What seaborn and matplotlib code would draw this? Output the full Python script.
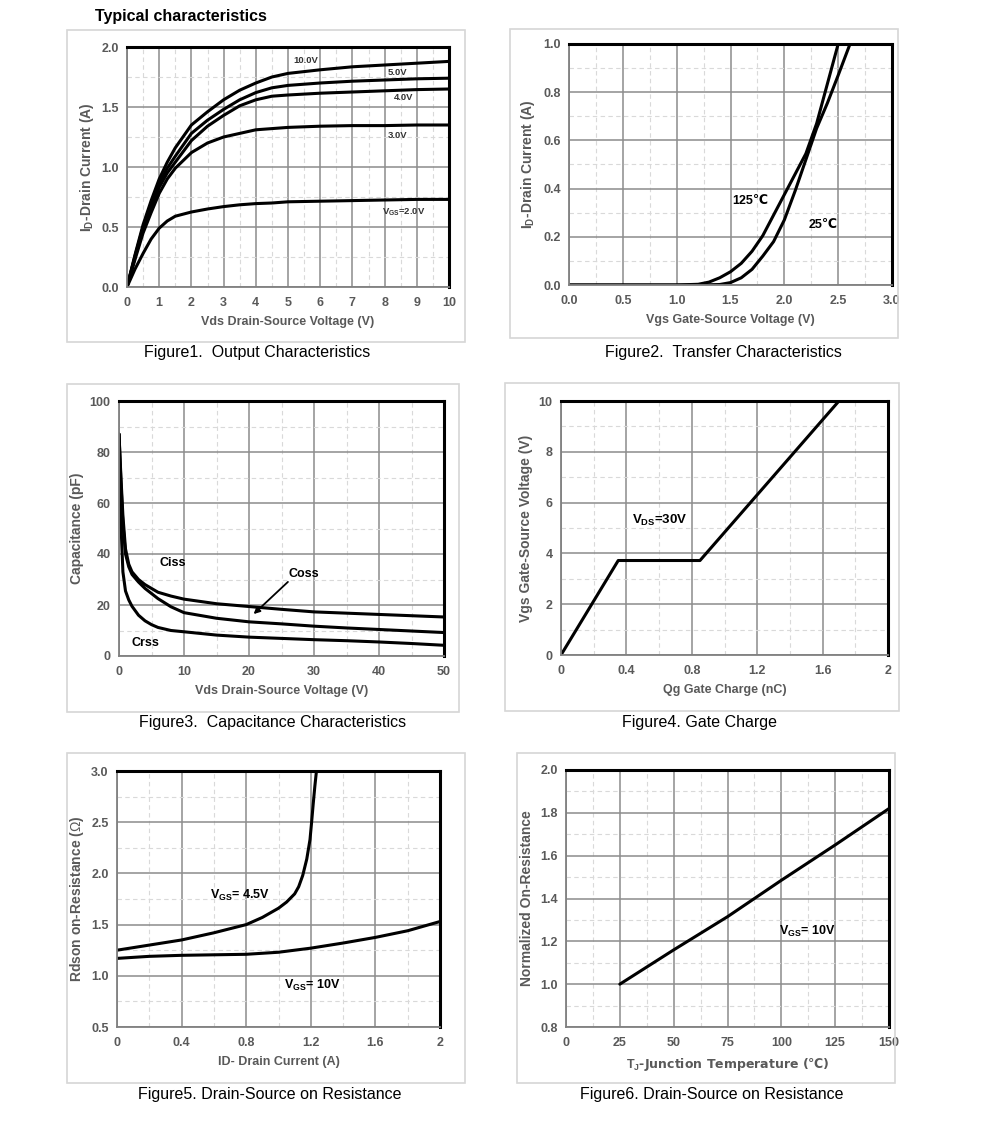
import numpy as np
import pandas as pd
import matplotlib
matplotlib.use('Agg')
import matplotlib.pyplot as plt
from matplotlib.patches import Rectangle
from matplotlib.ticker import MultipleLocator, FixedLocator, FixedFormatter
from matplotlib import font_manager, ft2font
import seaborn as sns

# ---- data ----
# Figure1: output characteristics
vds = [0, 0.25, 0.5, 0.75, 1, 1.25, 1.5, 2, 2.5, 3, 3.5, 4, 4.5, 5, 6, 7, 8, 9, 10]
id_10v = [0, 0.27, 0.52, 0.72, 0.90, 1.04, 1.16, 1.35, 1.46, 1.56, 1.64, 1.70, 1.75, 1.78, 1.81, 1.835, 1.85, 1.865, 1.88]
id_5v = [0, 0.26, 0.50, 0.69, 0.86, 0.99, 1.09, 1.28, 1.39, 1.48, 1.56, 1.62, 1.66, 1.68, 1.70, 1.715, 1.725, 1.735, 1.74]
id_4v = [0, 0.25, 0.48, 0.66, 0.83, 0.95, 1.04, 1.22, 1.34, 1.43, 1.51, 1.56, 1.59, 1.60, 1.615, 1.625, 1.635, 1.645, 1.65]
id_3v = [0, 0.23, 0.45, 0.62, 0.78, 0.90, 0.99, 1.12, 1.20, 1.25, 1.28, 1.31, 1.32, 1.33, 1.34, 1.345, 1.345, 1.35, 1.35]
id_2v = [0, 0.15, 0.28, 0.40, 0.49, 0.55, 0.59, 0.625, 0.65, 0.67, 0.685, 0.695, 0.70, 0.71, 0.715, 0.72, 0.725, 0.73, 0.73]
vgs_names = ['10.0V', '5.0V', '4.0V', '3.0V', '2.0V']

# Figure2: transfer characteristics
vgs_125 = [0, 1.0, 1.2, 1.3, 1.4, 1.5, 1.6, 1.7, 1.8, 1.9, 2.0, 2.1, 2.2, 2.3, 2.4, 2.5]
id_125 = [0, 0, 0.003, 0.012, 0.03, 0.055, 0.09, 0.14, 0.205, 0.29, 0.375, 0.46, 0.545, 0.67, 0.835, 1.0]
vgs_25 = [0, 1.2, 1.4, 1.5, 1.6, 1.7, 1.8, 1.9, 2.0, 2.1, 2.2, 2.3, 2.4, 2.5, 2.61]
id_25 = [0, 0, 0.002, 0.01, 0.03, 0.065, 0.12, 0.18, 0.27, 0.39, 0.52, 0.65, 0.755, 0.87, 1.0]

# Figure3: capacitance
vds_cap = [0, 0.3, 0.6, 1, 1.5, 2, 3, 4, 5, 6, 8, 10, 15, 20, 25, 30, 35, 40, 45, 50]
ciss = [87, 70, 55, 42, 36, 33, 30, 28, 26.5, 25, 23.5, 22.3, 20.5, 19.4, 18.3, 17.3, 16.8, 16.3, 15.8, 15.3]
coss = [87, 68, 52, 40, 35, 32, 29, 26.5, 24.5, 22.5, 19.3, 17, 14.8, 13.4, 12.6, 11.7, 11, 10.4, 9.8, 9.2]
crss = [87, 52, 33, 25.5, 22, 19.5, 16, 13.8, 12.3, 11.2, 10, 9.5, 8.2, 7.4, 6.9, 6.4, 6, 5.5, 4.9, 4.2]

# Figure4: gate charge
qg = [0, 0.35, 0.85, 1.70]
vgs_qg = [0, 3.72, 3.72, 10]

# Figure5: Rdson vs ID
id_45 = [0, 0.2, 0.4, 0.6, 0.8, 0.9, 1.0, 1.05, 1.1, 1.125, 1.15, 1.175, 1.195, 1.205, 1.215, 1.225, 1.235]
rds_45 = [1.25, 1.30, 1.35, 1.42, 1.50, 1.57, 1.66, 1.72, 1.80, 1.87, 1.98, 2.14, 2.33, 2.5, 2.68, 2.85, 3.0]
id_10 = [0, 0.2, 0.4, 0.6, 0.8, 1.0, 1.2, 1.4, 1.6, 1.8, 2.0]
rds_10 = [1.17, 1.19, 1.20, 1.205, 1.21, 1.23, 1.27, 1.32, 1.375, 1.44, 1.53]

# Figure6: normalized Rdson vs Tj
tj = [25, 50, 75, 100, 125, 150]
rnorm = [1.0, 1.16, 1.315, 1.485, 1.65, 1.82]

# tick labels
p1_xt, p1_yt = [0, 1, 2, 3, 4, 5, 6, 7, 8, 9, 10], [0, 0.5, 1.0, 1.5, 2.0]
p2_xt, p2_yt = [0, 0.5, 1.0, 1.5, 2.0, 2.5, 3.0], [0, 0.2, 0.4, 0.6, 0.8, 1.0]
p3_xt, p3_yt = [0, 10, 20, 30, 40, 50], [0, 20, 40, 60, 80, 100]
p4_xt, p4_yt = [0, 0.4, 0.8, 1.2, 1.6, 2], [0, 2, 4, 6, 8, 10]
p5_xt, p5_yt = [0, 0.4, 0.8, 1.2, 1.6, 2], [0.5, 1.0, 1.5, 2.0, 2.5, 3.0]
p6_xt, p6_yt = [0, 25, 50, 75, 100, 125, 150], [0.8, 1.0, 1.2, 1.4, 1.6, 1.8, 2.0]
p1_xl = [str(v) for v in p1_xt]
p1_yl = ['0.0', '0.5', '1.0', '1.5', '2.0']
p2_xl = ['0.0', '0.5', '1.0', '1.5', '2.0', '2.5', '3.0']
p2_yl = ['0.0', '0.2', '0.4', '0.6', '0.8', '1.0']
p3_xl = [str(v) for v in p3_xt]
p3_yl = [str(v) for v in p3_yt]
p4_xl = ['0', '0.4', '0.8', '1.2', '1.6', '2']
p4_yl = [str(v) for v in p4_yt]
p5_xl = ['0', '0.4', '0.8', '1.2', '1.6', '2']
p5_yl = ['0.5', '1.0', '1.5', '2.0', '2.5', '3.0']
p6_xl = [str(v) for v in p6_xt]
p6_yl = ['0.8', '1.0', '1.2', '1.4', '1.6', '1.8', '2.0']

captions = ['Figure1.  Output Characteristics', 'Figure2.  Transfer Characteristics',
            'Figure3.  Capacitance Characteristics', 'Figure4. Gate Charge',
            'Figure5. Drain-Source on Resistance', 'Figure6. Drain-Source on Resistance']

# ---- style ----
sns.set_theme(style='white')
FAM = ['Liberation Sans', 'DejaVu Sans', 'Noto Sans CJK SC']
plt.rcParams['font.family'] = FAM
plt.rcParams['mathtext.fontset'] = 'custom'
plt.rcParams['mathtext.rm'] = 'Liberation Sans'
plt.rcParams['mathtext.bf'] = 'Liberation Sans:bold'


def has_glyph(fam, ch):
    try:
        f = ft2font.FT2Font(font_manager.findfont(font_manager.FontProperties(family=fam, weight='bold')))
        return f.get_char_index(ord(ch)) != 0
    except Exception:
        return False


CEL_FAM = 'Liberation Sans' if has_glyph('Liberation Sans', '\u2103') else 'DejaVu Sans'

GRAY = '#595959'
W, H = 991, 1132
fig = plt.figure(figsize=(W / 100, H / 100), dpi=100)


def px(x0, y0, x1, y1):
    return [x0 / W, 1 - y1 / H, (x1 - x0) / W, (y1 - y0) / H]


def frame(x0, y0, x1, y1):
    fig.patches.append(Rectangle((x0 / W, 1 - y1 / H), (x1 - x0) / W, (y1 - y0) / H,
                                 transform=fig.transFigure, fill=False,
                                 edgecolor='#d6d6d6', lw=1.2))


def style(ax, xt, xl, yt, yl, xmin, ymin, xlabel, ylabel, xlab_fam=None):
    ax.set_xlim(xt[0], xt[-1])
    ax.set_ylim(yt[0], yt[-1])
    ax.xaxis.set_major_locator(FixedLocator(xt))
    ax.xaxis.set_major_formatter(FixedFormatter(xl))
    ax.yaxis.set_major_locator(FixedLocator(yt))
    ax.yaxis.set_major_formatter(FixedFormatter(yl))
    ax.xaxis.set_minor_locator(MultipleLocator(xmin))
    ax.yaxis.set_minor_locator(MultipleLocator(ymin))
    ax.grid(which='major', color='#8c8c8c', lw=1.1, ls='-')
    ax.grid(which='minor', color='#d9d9d9', lw=0.8, ls=(0, (4, 3)))
    ax.set_axisbelow(True)
    ax.tick_params(which='both', length=0)
    ax.tick_params(axis='x', pad=7, labelsize=9, labelcolor=GRAY)
    ax.tick_params(axis='y', pad=6, labelsize=9, labelcolor=GRAY)
    for lab in ax.get_xticklabels() + ax.get_yticklabels():
        lab.set_fontweight('bold')
    for s in ['top', 'right']:
        ax.spines[s].set_color('black')
        ax.spines[s].set_linewidth(2.2)
        ax.spines[s].set_visible(True)
    for s in ['left', 'bottom']:
        ax.spines[s].set_color('#808080')
        ax.spines[s].set_linewidth(1.3)
    kw = dict(fontweight='bold', color=GRAY)
    if xlab_fam:
        ax.set_xlabel(xlabel, labelpad=5, fontsize=9, family=xlab_fam, **kw)
    else:
        ax.set_xlabel(xlabel, labelpad=5, fontsize=9, **kw)
    ax.set_ylabel(ylabel, labelpad=4, fontsize=10, **kw)


LW = 2.2
TXT = dict(fontsize=9, fontweight='bold', color='black', ha='center', va='center')

# ---- Figure1 ----
frame(67, 30, 465, 342)
ax1 = fig.add_axes(px(127, 47, 449, 287))
df1 = pd.DataFrame({'vds': vds * 5,
                    'id': id_10v + id_5v + id_4v + id_3v + id_2v,
                    'vgs': [n for n in vgs_names for _ in vds]})
sns.lineplot(data=df1, x='vds', y='id', units='vgs', estimator=None, color='black',
             lw=LW, ax=ax1, legend=False)
style(ax1, p1_xt, p1_xl, p1_yt, p1_yl, 0.5, 0.25,
      'Vds Drain-Source Voltage (V)', r'$\mathbf{I_D}$-Drain Current (A)')
small = dict(fontsize=6.8, fontweight='bold', color='#333333', ha='center', va='center')
ax1.text(5.55, 1.885, '10.0V', **small)
ax1.text(8.4, 1.79, '5.0V', **small)
ax1.text(8.6, 1.58, '4.0V', **small)
ax1.text(8.4, 1.26, '3.0V', **small)
ax1.text(8.6, 0.62, r'V$_{\mathbf{GS}}$=2.0V', **small)
fig.text(95 / W, 1 - 17 / H, 'Typical characteristics', fontsize=11.5, fontweight='bold',
         color='black', ha='left', va='center')

# ---- Figure2 ----
frame(510, 29, 898, 338)
ax2 = fig.add_axes(px(569, 44, 892, 285))
df2 = pd.DataFrame({'vgs': vgs_125 + vgs_25, 'id': id_125 + id_25,
                    'temp': ['125'] * len(vgs_125) + ['25'] * len(vgs_25)})
sns.lineplot(data=df2, x='vgs', y='id', units='temp', estimator=None, color='black',
             lw=LW, ax=ax2, legend=False)
style(ax2, p2_xt, p2_xl, p2_yt, p2_yl, 0.25, 0.1,
      'Vgs Gate-Source Voltage (V)', r'$\mathbf{I_D}$-Drain Current (A)')
ax2.text(1.68, 0.35, '125\u2103', family=FAM, **TXT)
ax2.text(2.36, 0.25, '25\u2103', family=FAM, **TXT)

# ---- Figure3 ----
frame(67, 384, 459, 712)
ax3 = fig.add_axes(px(119, 401, 444, 656))
df3 = pd.DataFrame({'vds': vds_cap * 3, 'c': ciss + coss + crss,
                    'kind': ['Ciss'] * len(vds_cap) + ['Coss'] * len(vds_cap) + ['Crss'] * len(vds_cap)})
sns.lineplot(data=df3, x='vds', y='c', units='kind', estimator=None, color='black',
             lw=LW, ax=ax3, legend=False)
style(ax3, p3_xt, p3_xl, p3_yt, p3_yl, 5, 10,
      'Vds Drain-Source Voltage (V)', 'Capacitance (pF)')
ax3.text(8.3, 36.5, 'Ciss', **TXT)
ax3.text(28.5, 32, 'Coss', **TXT)
ax3.text(4.1, 5.2, 'Crss', **TXT)
ax3.annotate('', xy=(20.4, 15.7), xytext=(26.3, 29.8),
             arrowprops=dict(arrowstyle='-|>', color='black', lw=1.3, mutation_scale=9))

# ---- Figure4 ----
frame(505, 383, 899, 711)
ax4 = fig.add_axes(px(561, 401, 888, 655))
sns.lineplot(x=qg, y=vgs_qg, estimator=None, sort=False, color='black', lw=LW, ax=ax4)
style(ax4, p4_xt, p4_xl, p4_yt, p4_yl, 0.2, 1,
      'Qg Gate Charge (nC)', 'Vgs Gate-Source Voltage (V)')
ax4.text(0.605, 5.28, r'V$_{\mathbf{DS}}$=30V', fontsize=9.5, fontweight='bold',
         color='black', ha='center', va='center')

# ---- Figure5 ----
frame(67, 753, 465, 1083)
ax5 = fig.add_axes(px(117, 771, 440, 1027))
df5 = pd.DataFrame({'id': id_45 + id_10, 'r': rds_45 + rds_10,
                    'vgs': ['4.5'] * len(id_45) + ['10'] * len(id_10)})
sns.lineplot(data=df5, x='id', y='r', units='vgs', estimator=None, color='black',
             lw=LW, ax=ax5, legend=False)
style(ax5, p5_xt, p5_xl, p5_yt, p5_yl, 0.2, 0.25,
      'ID- Drain Current (A)', r'Rdson on-Resistance ($\Omega$)')
ax5.text(0.76, 1.78, r'V$_{\mathbf{GS}}$= 4.5V', **TXT)
ax5.text(1.21, 0.91, r'V$_{\mathbf{GS}}$= 10V', **TXT)

# ---- Figure6 ----
frame(517, 753, 895, 1083)
ax6 = fig.add_axes(px(566, 770, 889, 1027))
sns.lineplot(x=tj, y=rnorm, estimator=None, color='black', lw=LW, ax=ax6)
style(ax6, p6_xt, p6_xl, p6_yt, p6_yl, 12.5, 0.1,
      r'$\mathbf{T_J}$-Junction Temperature (' + '\u2103' + ')',
      'Normalized On-Resistance', xlab_fam=CEL_FAM)
ax6.text(112, 1.245, r'V$_{\mathbf{GS}}$= 10V', **TXT)

# captions
cap_pos = [(257, 353), (723, 353), (273, 723), (699, 723), (270, 1095), (712, 1095)]
for (cx, cy), cap in zip(cap_pos, captions):
    fig.text(cx / W, 1 - cy / H, cap, fontsize=11.5, color='black', ha='center', va='center')

fig.savefig('out.png', dpi=100)
